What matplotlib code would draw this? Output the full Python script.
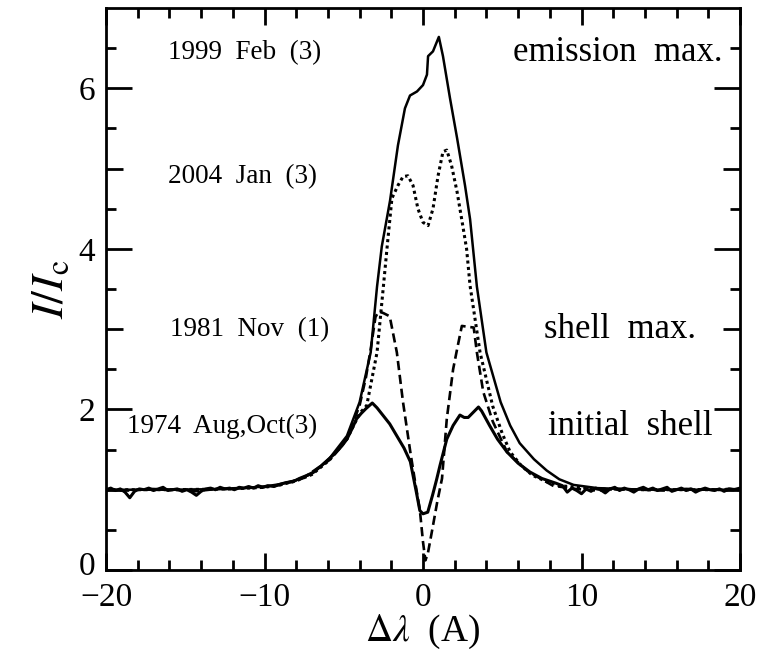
import matplotlib

matplotlib.use("Agg")
import matplotlib.pyplot as plt  # noqa: E402
from matplotlib.ticker import MultipleLocator, FixedLocator  # noqa: E402
from matplotlib.transforms import ScaledTranslation  # noqa: E402

plt.rcParams["font.family"] = ["Liberation Serif", "DejaVu Serif"]
plt.rcParams["mathtext.fontset"] = "stix"
plt.rcParams["axes.unicode_minus"] = True

# 1999 Feb (emission max.) - solid
X_1999 = [-20, -16, -12, -10, -9, -8, -7, -5.9, -4.8, -4.0, -3.3, -2.9, -2.6,
          -2.08, -1.58, -1.14, -0.82, -0.38, 0.0, 0.25, 0.32, 0.63, 1.0, 1.26,
          1.7, 2.15, 2.65, 2.97, 3.4, 4.0, 4.9, 5.5, 6.1, 7.0, 7.8, 8.6, 9.5,
          11, 14, 17, 20]
Y_1999 = [1.0, 1.0, 1.01, 1.04, 1.07, 1.12, 1.2, 1.39, 1.67, 2.09, 2.71, 3.53, 4.03,
          4.6, 5.29, 5.75, 5.91, 5.96, 6.04, 6.17, 6.4, 6.46, 6.64, 6.4,
          5.88, 5.38, 4.79, 4.37, 3.53, 2.71, 2.09, 1.8, 1.58, 1.38, 1.24, 1.13, 1.06,
          1.02, 1.0, 1.0, 1.0]

# 2004 Jan - dotted
X_2004 = [-20, -16, -12, -10, -9, -8, -7, -5.9, -4.8, -4.0, -3.55, -2.9, -2.5,
          -2.25, -1.96, -1.58, -1.26, -0.95, -0.63, -0.32, 0.0, 0.32, 0.63, 0.95,
          1.26, 1.5, 1.8, 2.15, 2.5, 2.75, 2.97, 3.6, 4.4, 5.0, 5.5, 6.2, 6.9, 7.8,
          8.6, 11, 14, 17, 20]
Y_2004 = [1.0, 1.0, 1.01, 1.03, 1.06, 1.11, 1.19, 1.37, 1.63, 1.95, 2.05, 2.71, 3.53,
          4.05, 4.63, 4.79, 4.9, 4.91, 4.79, 4.5, 4.33, 4.29, 4.5, 4.91,
          5.21, 5.23, 5.04, 4.71, 4.3, 4.0, 3.54, 2.71, 2.04, 1.7, 1.47, 1.3, 1.18, 1.1,
          1.05, 1.01, 1.0, 1.0, 1.0]

# 1981 Nov (shell max.) - dashed
X_1981 = [-20, -18.6, -17.2, -15.8, -14.4, -13.0, -11.6, -10.2, -9.0, -7.6, -5.9,
          -4.8, -4.0, -3.6, -3.3, -3.0, -2.8, -2.5, -2.1, -1.65, -1.26, -0.8, -0.5,
          -0.2, 0.0, 0.15, 0.3, 0.6, 0.9, 1.2, 1.5, 1.9, 2.15, 2.45, 2.8, 3.2, 3.4,
          3.8, 4.4, 5.3, 6.6, 8.2, 9.6, 11.0, 12.4, 13.8, 15.2, 16.6, 18.0, 19.4, 20]
Y_1981 = [1.0, 0.99, 1.01, 1.0, 0.98, 1.01, 1.02, 1.03, 1.06, 1.14, 1.37,
          1.63, 2.05, 2.4, 2.75, 3.15, 3.22, 3.2, 3.16, 2.71, 2.09, 1.47, 1.1,
          0.75, 0.35, 0.12, 0.2, 0.52, 0.85, 1.14, 1.88, 2.5, 2.75, 3.04, 3.03, 3.02, 2.71,
          2.22, 1.85, 1.47, 1.23, 1.05, 1.01, 0.99, 1.01, 1.0, 0.99, 1.01, 1.0, 1.01, 1.0]

# 1974 Aug,Oct (initial shell) - noisy solid
X_1974 = [-20.0, -19.7, -19.4, -19.1, -18.8, -18.5, -18.2, -17.9, -17.6, -17.3,
          -17.0, -16.7, -16.4, -16.1, -15.8, -15.5, -15.2, -14.9, -14.6, -14.3,
          -14.0, -13.7, -13.4, -13.1, -12.8, -12.5, -12.2, -11.9, -11.6, -11.3,
          -11.0, -10.7, -10.4, -10.1, -9.8, -9.4, -9.0, -8.6, -8.2, -7.8, -7.3,
          -6.9, -6.4, -5.9, -5.5, -5.1, -4.8, -4.5, -4.2, -3.9, -3.6, -3.2,
          -2.9, -2.5, -2.1, -1.65, -1.2, -0.8, -0.4, -0.2, 0.0, 0.3, 0.6, 0.85,
          1.07, 1.5, 1.9, 2.33, 2.6, 2.85, 3.2, 3.5, 3.7, 4.2, 4.7, 5.3, 6.0,
          6.75, 7.5, 8.4, 8.8, 9.1, 9.4, 9.7, 10.0, 10.3, 10.6, 10.9, 11.2, 11.5,
          11.8, 12.1, 12.4, 12.7, 13.0, 13.3, 13.6, 13.9, 14.2, 14.5, 14.8, 15.1,
          15.4, 15.7, 16.0, 16.3, 16.6, 16.9, 17.2, 17.5, 17.8, 18.1, 18.4, 18.7,
          19.0, 19.3, 19.6, 20.0]
Y_1974 = [1.00, 1.02, 0.99, 1.01, 0.97, 0.90, 0.98, 1.01, 1.00, 1.02,
          0.99, 1.01, 1.03, 0.99, 1.00, 1.01, 0.98, 1.00, 0.97, 0.93,
          0.98, 1.01, 1.02, 1.00, 1.03, 1.01, 1.02, 1.00, 1.03, 1.02,
          1.04, 1.02, 1.05, 1.03, 1.05, 1.04, 1.07, 1.09, 1.10, 1.14, 1.18,
          1.22, 1.30, 1.39, 1.46, 1.55, 1.63, 1.75, 1.88, 1.95, 2.01, 2.08,
          2.02, 1.92, 1.82, 1.67, 1.52, 1.35, 0.95, 0.74, 0.70, 0.72, 0.93, 1.12,
          1.30, 1.63, 1.80, 1.93, 1.90, 1.90, 1.97, 2.03, 1.98, 1.80, 1.63, 1.47, 1.33,
          1.22, 1.14, 1.08, 1.05, 0.97, 1.02, 0.99, 0.95, 1.01, 0.98, 1.02, 1.00, 0.96,
          1.01, 1.03, 0.99, 1.02, 1.00, 0.97, 1.01, 1.03, 1.00, 1.02, 0.99, 1.01,
          1.03, 0.98, 1.00, 1.02, 0.99, 1.01, 0.97, 1.00, 1.02, 1.00, 0.99, 1.01,
          0.98, 1.01, 1.00, 1.02]

LEFT_LABELS = ["1999  Feb  (3)", "2004  Jan  (3)", "1981  Nov  (1)", "1974  Aug,Oct(3)"]
LEFT_X = [-16.1, -16.1, -15.96, -18.7]
LABEL_Y = [6.44, 4.9, 3.0, 1.79]
RIGHT_LABELS = ["emission  max.", "shell  max.", "initial  shell"]
RIGHT_X = [18.9, 17.2, 18.3]
RIGHT_Y = [6.44, 3.0, 1.79]


def main() -> None:
    fig = plt.figure(figsize=(7.62, 6.61), dpi=100)
    ax = fig.add_axes([106 / 762, 91 / 661, 634 / 762, 562 / 661])

    ax.plot(X_1999, Y_1999, color="black", lw=1.8)
    ax.plot(X_2004, Y_2004, color="black", lw=2.2, ls=(0, (1, 1.1)))
    ax.plot(X_1981, Y_1981, color="black", lw=1.9, ls=(0, (3.5, 1.8)))
    ax.plot(X_1974, Y_1974, color="black", lw=2.2)

    for txt, x, y in zip(LEFT_LABELS, LEFT_X, LABEL_Y):
        ax.text(x, y, txt, fontsize=19.5, ha="left", va="center")
    for txt, x, y in zip(RIGHT_LABELS, RIGHT_X, RIGHT_Y):
        ax.text(x, y, txt, fontsize=25, ha="right", va="center")

    ax.set_xlim(-20, 20)
    ax.set_ylim(0, 7)
    ax.xaxis.set_major_locator(MultipleLocator(10))
    ax.xaxis.set_minor_locator(MultipleLocator(2))
    ax.yaxis.set_major_locator(FixedLocator([0, 2, 4, 6]))
    ax.yaxis.set_minor_locator(FixedLocator([0.5, 1.5, 2.5, 3.5, 4.5, 5.5, 6.5]))
    ax.tick_params(which="both", direction="in", top=True, right=True, width=2)
    ax.tick_params(axis="x", which="major", length=12, pad=9, labelsize=24)
    ax.tick_params(axis="x", which="minor", length=7)
    ax.tick_params(axis="y", which="major", length=19, pad=8, labelsize=24)
    ax.tick_params(axis="y", which="minor", length=7)
    # nudge the "0" label up a little so it clears the "-20" below it
    zero = ax.yaxis.get_major_ticks()[0].label1
    zero.set_transform(zero.get_transform()
                       + ScaledTranslation(0, 5 / 72, fig.dpi_scale_trans))
    for side in ("left", "right"):
        sec = ax.secondary_yaxis(side)
        sec.set_yticks([1, 3, 5])
        sec.tick_params(direction="in", length=12, width=2, labelleft=False,
                        labelright=False)
        sec.spines[side].set_visible(False)
    for s in ax.spines.values():
        s.set_linewidth(2)

    ax.set_xlabel(r"$\Delta\lambda$  (A)", fontsize=27, labelpad=0)
    ax.set_ylabel(r"$\mathbf{\mathit{I/I}}_{\rm c}$", fontsize=33, labelpad=4)

    fig.savefig("out.png", dpi=100)


if __name__ == "__main__":
    main()
